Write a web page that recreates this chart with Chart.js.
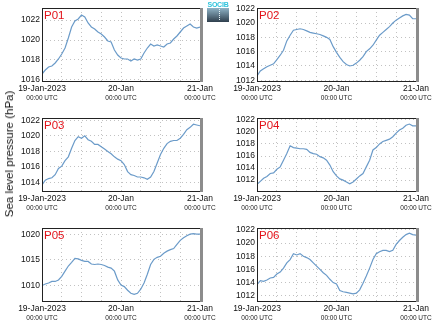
<!DOCTYPE html>
<html>
<head>
<script src="https://cdn.jsdelivr.net/npm/chart.js@4.4.0/dist/chart.umd.min.js"></script>
<style>
body { margin: 0; background: #fff; }
#wrap { position: relative; width: 435px; height: 327px; overflow: hidden; font-family: "Liberation Sans", Arial, sans-serif; }
canvas { position: absolute; }
#ytitle { position: absolute; left: 9px; top: 154px; transform: translate(-50%, -50%) rotate(-90deg); font-size: 11.5px; white-space: nowrap; color: #111; }
#logo { position: absolute; left: 207px; top: 1px; width: 22px; }
#logo .t { font-size: 7px; line-height: 7px; color: #2fc3dc; text-align: center; font-weight: bold; letter-spacing: -0.2px; }
#logo .b { height: 14px; background: linear-gradient(#8fb3c6, #2f3f4d); position: relative; }
#logo .b div { position: absolute; left: 12px; top: 1px; height: 11px; border-left: 1px dotted #e8f4f8; }
</style>
</head>
<body>
<div id="wrap">
  <canvas id="p01" width="218" height="110" style="left:0;top:0"></canvas>
  <canvas id="p02" width="219" height="110" style="left:216px;top:0"></canvas>
  <canvas id="p03" width="218" height="110" style="left:0;top:110px"></canvas>
  <canvas id="p04" width="219" height="110" style="left:216px;top:110px"></canvas>
  <canvas id="p05" width="218" height="110" style="left:0;top:220px"></canvas>
  <canvas id="p06" width="219" height="110" style="left:216px;top:220px"></canvas>
  <div id="ytitle">Sea level pressure (hPa)</div>
  <div id="logo"><div class="t">SOCIB</div><div class="b"><div></div></div></div>
</div>
<script>
// hourly values, 19-Jan-2023 00:00 UTC to 21-Jan 00:00 UTC
var P01 = [1016.6, 1017.0, 1017.3, 1017.4, 1017.7, 1018.1, 1018.6, 1019.2, 1020.2, 1021.3, 1021.9, 1022.1, 1022.5,
  1022.3, 1021.7, 1021.3, 1021.1, 1020.8, 1020.6, 1020.3, 1019.9, 1019.8, 1019.0, 1018.5, 1018.2,
  1018.1, 1018.1, 1017.9, 1018.1, 1018.0, 1018.1, 1018.7, 1019.2, 1019.6, 1019.4, 1019.5, 1019.4,
  1019.3, 1019.6, 1019.7, 1020.1, 1020.4, 1020.8, 1021.2, 1021.4, 1021.6, 1021.3, 1021.2, 1021.3];
var P02 = [1012.6, 1013.3, 1013.6, 1013.9, 1014.1, 1014.3, 1014.9, 1015.5, 1016.2, 1017.5, 1018.3, 1019.0, 1019.1,
  1019.2, 1019.1, 1018.9, 1018.7, 1018.6, 1018.5, 1018.4, 1018.2, 1018.0, 1017.7, 1016.7, 1015.9,
  1015.2, 1014.6, 1014.2, 1014.0, 1014.1, 1014.4, 1014.8, 1015.3, 1016.0, 1016.4, 1016.9, 1017.6,
  1018.3, 1018.7, 1019.1, 1019.5, 1020.0, 1020.4, 1020.7, 1021.0, 1021.2, 1021.1, 1020.6, 1020.6];
var P03 = [1013.7, 1014.3, 1014.5, 1014.6, 1015.0, 1015.8, 1016.1, 1016.8, 1017.3, 1018.4, 1019.4, 1019.9, 1019.7,
  1020.0, 1019.5, 1019.3, 1018.9, 1018.9, 1018.6, 1018.3, 1018.0, 1017.7, 1017.3, 1017.0, 1016.8,
  1016.3, 1015.4, 1015.0, 1014.9, 1014.7, 1014.7, 1014.6, 1014.4, 1014.7, 1015.4, 1016.5, 1017.6,
  1018.4, 1019.0, 1019.3, 1019.4, 1019.4, 1019.7, 1020.2, 1020.8, 1021.1, 1021.5, 1021.4, 1021.3];
var P04 = [1011.3, 1011.8, 1012.3, 1012.6, 1013.1, 1013.2, 1013.8, 1014.2, 1015.3, 1016.4, 1017.7, 1017.4, 1017.3,
  1017.2, 1017.2, 1017.1, 1016.6, 1016.4, 1016.3, 1015.9, 1015.7, 1015.3, 1014.5, 1013.4, 1012.7,
  1012.2, 1012.0, 1011.7, 1011.4, 1011.7, 1012.2, 1012.7, 1013.1, 1014.2, 1015.3, 1017.0, 1017.4,
  1018.0, 1018.4, 1018.6, 1018.8, 1019.2, 1019.8, 1020.3, 1020.6, 1021.1, 1021.3, 1021.0, 1021.0];
var P05 = [1010.0, 1010.3, 1010.5, 1010.8, 1010.8, 1011.1, 1011.8, 1012.8, 1013.8, 1014.5, 1015.3, 1015.2, 1014.9,
  1014.7, 1014.7, 1014.2, 1014.1, 1014.2, 1014.1, 1013.9, 1013.6, 1013.4, 1012.8, 1011.1, 1010.1,
  1009.8, 1009.1, 1008.5, 1008.3, 1008.5, 1009.3, 1010.5, 1012.2, 1014.1, 1015.1, 1015.5, 1015.7,
  1016.3, 1016.7, 1017.0, 1017.2, 1018.0, 1018.8, 1019.3, 1019.7, 1020.0, 1020.1, 1020.0, 1020.0];
var P06 = [1013.7, 1014.3, 1014.2, 1014.4, 1014.7, 1014.8, 1015.3, 1015.6, 1016.2, 1017.0, 1017.5, 1018.4, 1018.2,
  1018.4, 1018.0, 1017.8, 1017.5, 1017.0, 1016.5, 1016.0, 1015.5, 1015.1, 1014.5, 1014.0, 1013.8,
  1012.8, 1012.6, 1012.5, 1012.4, 1012.3, 1012.4, 1012.9, 1013.9, 1015.0, 1016.2, 1017.5, 1018.4,
  1018.7, 1018.9, 1018.9, 1018.7, 1018.9, 1019.8, 1020.4, 1020.9, 1021.3, 1021.5, 1021.3, 1021.2];

var HOURS = P01.map(function (v, i) { return i; });
var DATE_LABELS = ["19-Jan-2023", "20-Jan", "21-Jan"];
var TIME_LABEL = "00:00 UTC";

var TICKS_A = [1016, 1018, 1020, 1022];
var TICKS_B = [1012, 1014, 1016, 1018, 1020, 1022];
var TICKS_C = [1014, 1016, 1018, 1020, 1022];
var TICKS_D = [1010, 1015, 1020];

var LINE = "#6b9bc9";
var GRID = "#c2c2c2";
var FONT = "Liberation Sans";

var framePlugin = {
  id: "frame",
  afterDraw: function (chart, args, opts) {
    var ctx = chart.ctx, a = chart.chartArea;
    var l = Math.round(a.left), t = Math.round(a.top), r = Math.round(a.right), b = Math.round(a.bottom);
    ctx.save();
    ctx.strokeStyle = "#222";
    ctx.lineWidth = 1;
    ctx.strokeRect(l + 0.5, t + 0.5, r - l, b - t);
    ctx.fillStyle = "#8c8c8c";
    ctx.fillRect(r, t, 3, b - t + 1);
    ctx.fillStyle = "#e3131b";
    ctx.font = "11.5px " + FONT;
    ctx.textBaseline = "alphabetic";
    ctx.fillText(opts.label, l + 2, t + 11);
    ctx.restore();
  }
};

function panel(id, label, values, yMin, yMax, yTicks, axisW, padR) {
  new Chart(document.getElementById(id), {
    type: "line",
    data: {
      labels: HOURS,
      datasets: [{ data: values, borderColor: LINE, borderWidth: 1.2, pointRadius: 0, tension: 0, fill: false }]
    },
    options: {
      responsive: false,
      animation: false,
      events: [],
      layout: { padding: { left: 0, top: 8, right: padR, bottom: 6 } },
      plugins: { legend: { display: false }, tooltip: { enabled: false }, frame: { label: label } },
      scales: {
        x: {
          type: "linear", min: 0, max: 48, weight: 0,
          afterFit: function (s) { s.height = 13; },
          grid: { color: GRID, lineWidth: 1, drawTicks: false },
          border: { display: false, dash: [1, 3] },
          ticks: {
            stepSize: 6, autoSkip: false, maxRotation: 0, padding: 3, color: "#111",
            font: { family: FONT, size: 8.5 },
            callback: function (v) { return v % 24 === 0 ? DATE_LABELS[v / 24] : ""; }
          }
        },
        x2: {
          type: "linear", position: "bottom", min: 0, max: 48, weight: 1,
          afterFit: function (s) { s.height = 10; },
          grid: { display: false, drawTicks: false },
          border: { display: false },
          ticks: {
            stepSize: 24, autoSkip: false, maxRotation: 0, padding: 0, color: "#222",
            font: { family: FONT, size: 6.5 },
            callback: function () { return TIME_LABEL; }
          }
        },
        y: {
          min: yMin, max: yMax,
          afterFit: function (s) { s.width = axisW; },
          afterBuildTicks: function (s) { s.ticks = yTicks.map(function (v) { return { value: v }; }); },
          grid: { color: GRID, lineWidth: 1, drawTicks: false },
          border: { display: false, dash: [1, 3] },
          ticks: {
            padding: 2, color: "#111", font: { family: FONT, size: 8.5 },
            callback: function (v) { return String(v); }
          }
        }
      }
    },
    plugins: [framePlugin]
  });
}

panel("p01", "P01", P01, 1015.9, 1023.2, TICKS_A, 42, 18);
panel("p02", "P02", P02, 1011.9, 1022.1, TICKS_B, 41, 19);
panel("p03", "P03", P03, 1012.9, 1022.3, TICKS_C, 42, 18);
panel("p04", "P04", P04, 1010.2, 1022.3, TICKS_B, 41, 19);
panel("p05", "P05", P05, 1007.0, 1021.2, TICKS_D, 42, 18);
panel("p06", "P06", P06, 1011.2, 1022.3, TICKS_B, 41, 19);
</script>
</body>
</html>
